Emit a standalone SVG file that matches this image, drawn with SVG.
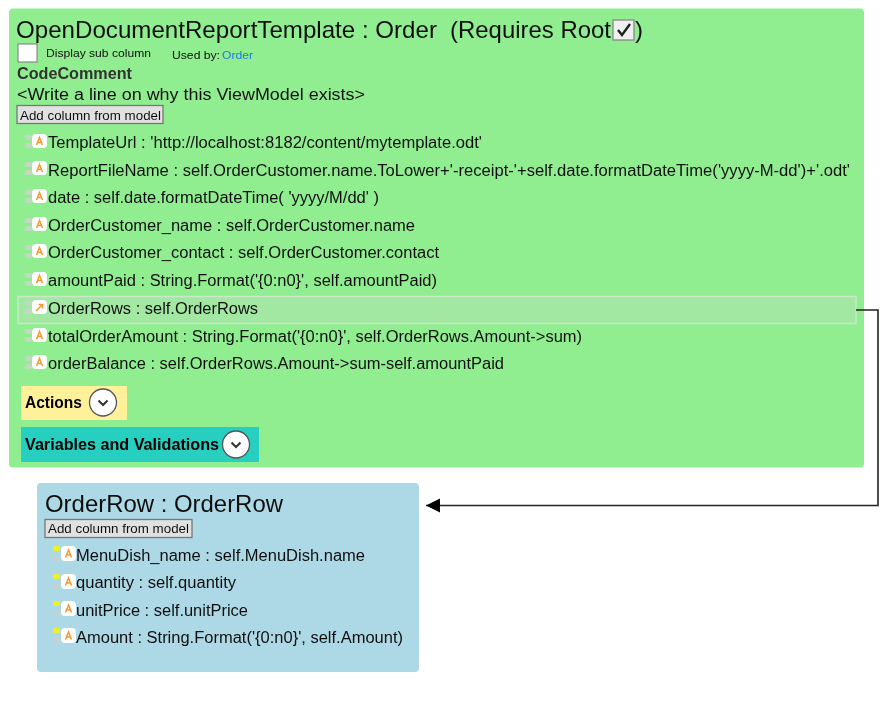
<svg xmlns="http://www.w3.org/2000/svg" xmlns:xlink="http://www.w3.org/1999/xlink" width="891" height="704" viewBox="0 0 891 704">
<style>
text{font-family:"Liberation Sans",Arial,sans-serif;fill:#111}
.title{font-size:24px}
.row{font-size:16px}
.bold{font-weight:bold;font-size:16px;fill:#000}
.small{font-size:10px}
.btntxt{font-size:12px}
.btn{fill:#e1e1e1;stroke:#777;stroke-width:1.3}
.grip{fill:#c6d6c6}
.iconbg{fill:#fff}
.ico{fill:none;stroke:#f59a30;stroke-width:1.5}
.circ{fill:#fff;stroke:#555;stroke-width:1.3}
.chev{fill:none;stroke:#333;stroke-width:2}
.soft{filter:url(#soft)}
</style>
<defs>
<filter id="soft" x="-2%" y="-2%" width="104%" height="104%"><feGaussianBlur stdDeviation="0.35"/></filter>
<g id="attr"><rect class="grip" x="-8" y="-7" width="7" height="5" rx="2"/><rect class="grip" x="-8" y="1" width="7" height="5" rx="2"/><rect class="iconbg" x="-1" y="-8" width="15" height="14" rx="4"/><path class="ico" d="M3.500 3 L6.500 -4.500 L9.500 3 M4.500 0.500 H8.500"/></g>
<g id="attrY"><rect fill="#f4f01e" x="-9" y="-8" width="7" height="5" rx="2"/><rect fill="#c4d2d4" x="-9" y="2" width="7" height="5" rx="2"/><rect class="iconbg" x="-1" y="-8" width="15" height="15" rx="4"/><path class="ico" d="M3.500 3.500 L6.500 -4 L9.500 3.500 M4.500 1 H8.500"/></g>
<marker id="arrow" markerUnits="userSpaceOnUse" markerWidth="15" markerHeight="15" refX="14" refY="7" orient="auto"><path d="M0 0 L14 7 L0 14 Z" fill="#000"/></marker>
</defs>

<g id="node-report" class="soft">
<rect x="9" y="8.500" width="855" height="459" rx="4" fill="#90ee90"/>
<text class="title" x="16" y="38" textLength="421" lengthAdjust="spacingAndGlyphs">OpenDocumentReportTemplate : Order</text>
<text class="title" x="450" y="38" textLength="161" lengthAdjust="spacingAndGlyphs">(Requires Root</text>
<rect x="613" y="20" width="21" height="20" fill="#f0f0f0" stroke="#888" stroke-width="1.3"/>
<path d="M618 30 L622 35 L630 24" fill="none" stroke="#222" stroke-width="2.400"/>
<text class="title" x="635" y="38">)</text>
<rect x="18" y="44" width="19" height="18" fill="#fff" stroke="#777" stroke-width="1"/>
<text class="small" x="46" y="57" textLength="105" lengthAdjust="spacingAndGlyphs">Display sub column</text>
<text class="small" x="172" y="59" textLength="48" lengthAdjust="spacingAndGlyphs">Used by:</text>
<text class="small" x="222" y="59" textLength="31" lengthAdjust="spacingAndGlyphs" style="fill:#1f7ae0">Order</text>
<text class="bold" x="17" y="79" textLength="115" lengthAdjust="spacingAndGlyphs" style="fill:#333">CodeComment</text>
<text class="row" x="17" y="100" textLength="348" lengthAdjust="spacingAndGlyphs">&lt;Write a line on why this ViewModel exists&gt;</text>
<rect class="btn" x="17" y="105.500" width="146" height="18"/>
<text class="btntxt" x="20" y="120" textLength="141" lengthAdjust="spacingAndGlyphs">Add column from model</text>

<rect x="18" y="296.500" width="838" height="27" fill="#a2e8a2" stroke="#c8e8c8" stroke-width="1.500"/>

<use xlink:href="#attr" href="#attr" x="33" y="142"/>
<text class="row" x="48" y="148" textLength="434" lengthAdjust="spacingAndGlyphs">TemplateUrl : 'http://localhost:8182/content/mytemplate.odt'</text>
<use xlink:href="#attr" href="#attr" x="33" y="169"/>
<text class="row" x="48" y="176" textLength="802" lengthAdjust="spacingAndGlyphs">ReportFileName : self.OrderCustomer.name.ToLower+'-receipt-'+self.date.formatDateTime('yyyy-M-dd')+'.odt'</text>
<use xlink:href="#attr" href="#attr" x="33" y="197"/>
<text class="row" x="48" y="203" textLength="331" lengthAdjust="spacingAndGlyphs">date : self.date.formatDateTime( 'yyyy/M/dd' )</text>
<use xlink:href="#attr" href="#attr" x="33" y="225"/>
<text class="row" x="48" y="231" textLength="367" lengthAdjust="spacingAndGlyphs">OrderCustomer_name : self.OrderCustomer.name</text>
<use xlink:href="#attr" href="#attr" x="33" y="252"/>
<text class="row" x="48" y="258" textLength="391" lengthAdjust="spacingAndGlyphs">OrderCustomer_contact : self.OrderCustomer.contact</text>
<use xlink:href="#attr" href="#attr" x="33" y="280"/>
<text class="row" x="48" y="286" textLength="389" lengthAdjust="spacingAndGlyphs">amountPaid : String.Format('{0:n0}', self.amountPaid)</text>
<g transform="translate(33 308)"><rect class="grip" x="-8" y="-7" width="7" height="5" rx="2"/><rect class="grip" x="-8" y="1" width="7" height="5" rx="2"/><rect class="iconbg" x="-1" y="-8" width="15" height="14" rx="4"/><path class="ico" d="M3 3 L9 -3 M5.500 -3.500 H9.500 V0.500"/></g>
<text class="row" x="48" y="314" textLength="210" lengthAdjust="spacingAndGlyphs">OrderRows : self.OrderRows</text>
<use xlink:href="#attr" href="#attr" x="33" y="336"/>
<text class="row" x="48" y="342" textLength="534" lengthAdjust="spacingAndGlyphs">totalOrderAmount : String.Format('{0:n0}', self.OrderRows.Amount-&gt;sum)</text>
<use xlink:href="#attr" href="#attr" x="33" y="363"/>
<text class="row" x="48" y="369" textLength="456" lengthAdjust="spacingAndGlyphs">orderBalance : self.OrderRows.Amount-&gt;sum-self.amountPaid</text>

<rect x="21" y="386" width="106" height="34" fill="#fff09a"/>
<text class="bold" x="25" y="408" textLength="57" lengthAdjust="spacingAndGlyphs">Actions</text>
<circle class="circ" cx="103" cy="402.500" r="13.500"/>
<path class="chev" d="M98.500 400.500 L103 405 L107.500 400.500"/>
<rect x="21" y="427" width="238" height="35" fill="#27cfc0"/>
<text class="bold" x="25" y="450" textLength="194" lengthAdjust="spacingAndGlyphs">Variables and Validations</text>
<circle class="circ" cx="236" cy="444.500" r="13.500"/>
<path class="chev" d="M231.500 442.500 L236 447 L240.500 442.500"/>
</g>

<g id="node-orderrow" class="soft">
<rect x="37" y="483" width="382" height="189" rx="4" fill="#add8e6"/>
<text class="title" x="45" y="512" textLength="238" lengthAdjust="spacingAndGlyphs">OrderRow : OrderRow</text>
<rect class="btn" x="45" y="519.500" width="147" height="18"/>
<text class="btntxt" x="48" y="533" textLength="141" lengthAdjust="spacingAndGlyphs">Add column from model</text>
<use xlink:href="#attrY" href="#attrY" x="62" y="554"/>
<text class="row" x="76" y="561" textLength="289" lengthAdjust="spacingAndGlyphs">MenuDish_name : self.MenuDish.name</text>
<use xlink:href="#attrY" href="#attrY" x="62" y="582"/>
<text class="row" x="76" y="588" textLength="160" lengthAdjust="spacingAndGlyphs">quantity : self.quantity</text>
<use xlink:href="#attrY" href="#attrY" x="62" y="609"/>
<text class="row" x="76" y="616" textLength="172" lengthAdjust="spacingAndGlyphs">unitPrice : self.unitPrice</text>
<use xlink:href="#attrY" href="#attrY" x="62" y="636"/>
<text class="row" x="76" y="643" textLength="327" lengthAdjust="spacingAndGlyphs">Amount : String.Format('{0:n0}', self.Amount)</text>
</g>

<g id="connectors">
<path d="M856 310 H878 V505.500 H426" fill="none" stroke="#222" stroke-width="1.600" marker-end="url(#arrow)"/>
</g>
</svg>
